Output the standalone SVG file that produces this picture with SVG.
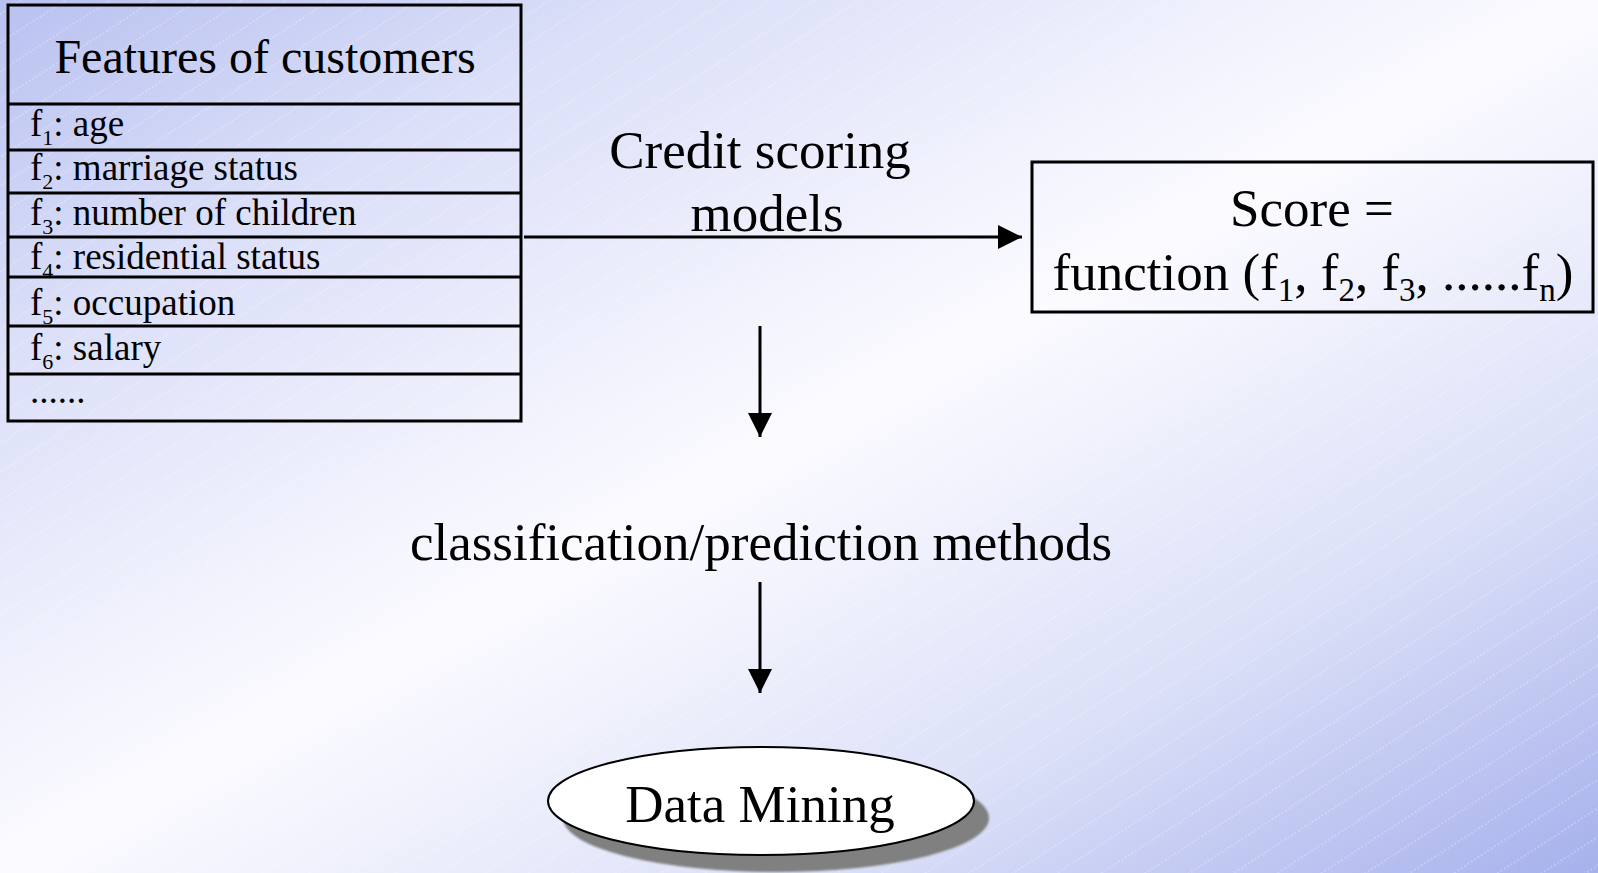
<svg xmlns="http://www.w3.org/2000/svg" width="1598" height="873" viewBox="0 0 1598 873">
<defs>
<linearGradient id="bg" x1="0" y1="0" x2="1" y2="1">
<stop offset="0" stop-color="#b8c1f0"/>
<stop offset="0.2" stop-color="#dbdff8"/>
<stop offset="0.5" stop-color="#fbfbff"/>
<stop offset="0.75" stop-color="#dde1f8"/>
<stop offset="1" stop-color="#a6b1ec"/>
</linearGradient>
<pattern id="hatch" width="24" height="24" patternUnits="userSpaceOnUse" patternTransform="rotate(-33)">
<line x1="0" y1="12" x2="24" y2="12" stroke="#ffffff" stroke-width="1" stroke-dasharray="2 2" opacity="0.45"/>
</pattern>
<marker id="arr" markerUnits="userSpaceOnUse" markerWidth="26" markerHeight="26" refX="24" refY="12" orient="auto">
<path d="M0,0 L24,12 L0,24 Z" fill="#000"/>
</marker>
<filter id="blur" x="-10%" y="-20%" width="120%" height="140%"><feGaussianBlur stdDeviation="0.8"/></filter>
<style>
text{font-family:"Liberation Serif","Times New Roman",serif;fill:#000}
.big{font-size:53px}
.hdr{font-size:48px}
.row{font-size:37px}
.sub{font-size:22px}
.fsub{font-size:33px}
.box{fill:none;stroke:#000;stroke-width:3}
.sep{stroke:#000;stroke-width:3}
.conn{stroke:#000;stroke-width:3;fill:none}
</style>
</defs>
<rect x="0" y="0" width="1598" height="873" fill="url(#bg)"/>
<rect x="0" y="0" width="1598" height="873" fill="url(#hatch)"/>

<g id="features">
<rect class="box" x="8" y="5" width="513" height="416"/>
<line class="sep" x1="8" y1="104" x2="521" y2="104"/>
<line class="sep" x1="8" y1="150" x2="521" y2="150"/>
<line class="sep" x1="8" y1="193" x2="521" y2="193"/>
<line class="sep" x1="8" y1="237" x2="521" y2="237"/>
<line class="sep" x1="8" y1="277" x2="521" y2="277"/>
<line class="sep" x1="8" y1="326" x2="521" y2="326"/>
<line class="sep" x1="8" y1="374" x2="521" y2="374"/>
<text class="hdr" x="265" y="73" text-anchor="middle">Features of customers</text>
<text class="row" x="30" y="136">f<tspan class="sub" dy="9">1</tspan><tspan dy="-9">: age</tspan></text>
<text class="row" x="30" y="180">f<tspan class="sub" dy="9">2</tspan><tspan dy="-9">: marriage status</tspan></text>
<text class="row" x="30" y="225">f<tspan class="sub" dy="9">3</tspan><tspan dy="-9">: number of children</tspan></text>
<text class="row" x="30" y="269">f<tspan class="sub" dy="9">4</tspan><tspan dy="-9">: residential status</tspan></text>
<text class="row" x="30" y="315">f<tspan class="sub" dy="9">5</tspan><tspan dy="-9">: occupation</tspan></text>
<text class="row" x="30" y="360">f<tspan class="sub" dy="9">6</tspan><tspan dy="-9">: salary</tspan></text>
<text class="row" x="30" y="403">......</text>
</g>

<g id="credit-label">
<text class="big" x="760" y="168" text-anchor="middle">Credit scoring</text>
<text class="big" x="767" y="231" text-anchor="middle">models</text>
</g>

<g id="score">
<rect class="box" x="1032" y="162" width="561" height="150"/>
<text class="big" x="1312" y="226" text-anchor="middle">Score =</text>
<text class="big" x="1313" y="290" text-anchor="middle">function (f<tspan class="fsub" dy="11">1</tspan><tspan dy="-11">, f</tspan><tspan class="fsub" dy="11">2</tspan><tspan dy="-11">, f</tspan><tspan class="fsub" dy="11">3</tspan><tspan dy="-11">, ......f</tspan><tspan class="fsub" dy="11">n</tspan><tspan dy="-11">)</tspan></text>
</g>

<g id="methods">
<text class="big" x="761" y="560" text-anchor="middle">classification/prediction methods</text>
</g>

<g id="data-mining">
<ellipse cx="776" cy="818" rx="213" ry="54" fill="#808080" filter="url(#blur)"/>
<ellipse cx="761" cy="801" rx="213" ry="54" fill="#ffffff" stroke="#000" stroke-width="2"/>
<text class="big" x="760" y="822" text-anchor="middle">Data Mining</text>
</g>

<g id="connectors">
<line class="conn" x1="524" y1="237" x2="1022" y2="237" marker-end="url(#arr)"/>
<line class="conn" x1="760" y1="326" x2="760" y2="437" marker-end="url(#arr)"/>
<line class="conn" x1="760" y1="582" x2="760" y2="693" marker-end="url(#arr)"/>
</g>
</svg>
